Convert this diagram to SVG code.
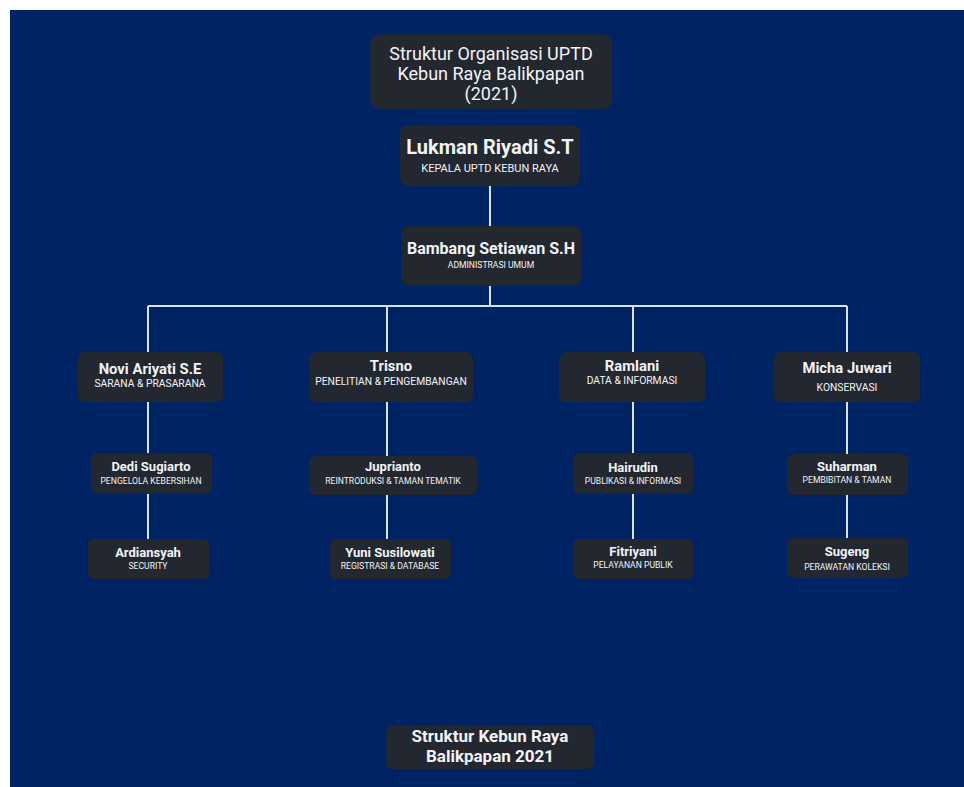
<svg xmlns="http://www.w3.org/2000/svg" width="964" height="787" viewBox="0 0 964 787">
<style>
.box{fill:#23272f}
.t{font-family:Roboto,"Liberation Sans",sans-serif;fill:#f2f4f7;text-anchor:middle}
.title{font-size:18px}
.n1{font-size:20px;font-weight:bold}
.n2{font-size:14.8px;font-weight:bold}
.n3{font-size:13px;font-weight:bold}
.s1{font-size:11px}
.s2{font-size:10.3px}
.s3{font-size:8.6px}
.foot{font-size:17px;font-weight:bold}
.ln{stroke:#dbe3ee;stroke-width:2;fill:none}
</style>
<rect x="0" y="0" width="964" height="787" fill="#ffffff"/>
<rect x="10" y="10" width="954" height="777" fill="#002463"/>
<g id="connectors">
<path class="ln" d="M490 186V226M490 286V306M148 306H847M148 306V352M387 306V352M633 306V352M847 306V352"/>
<path class="ln" d="M148 402V453M148 494V539M387 402V456M387 495V539M633 402V453M633 494V539M847 402V454M847 495V538"/>
</g>
<g id="title">
<rect class="box" x="370" y="34" width="242" height="75" rx="9"/>
<text class="t title" x="491" y="60">Struktur Organisasi UPTD</text>
<text class="t title" x="491" y="80">Kebun Raya Balikpapan</text>
<text class="t title" x="491" y="100">(2021)</text>
</g>
<g id="lukman">
<rect class="box" x="400" y="125" width="180" height="61" rx="8"/>
<text class="t n1" x="490" y="154">Lukman Riyadi S.T</text>
<text class="t s1" x="490" y="172">KEPALA UPTD KEBUN RAYA</text>
</g>
<g id="bambang">
<rect class="box" x="401" y="226" width="180" height="60" rx="8"/>
<text class="t n2" x="491" y="254" style="font-size:16px">Bambang Setiawan S.H</text>
<text class="t s3" x="491" y="268">ADMINISTRASI UMUM</text>
</g>
<g id="novi">
<rect class="box" x="78" y="352" width="145" height="50" rx="7"/>
<text class="t n2" x="150" y="374">Novi Ariyati S.E</text>
<text class="t s2" x="150" y="387">SARANA &amp; PRASARANA</text>
</g>
<g id="trisno">
<rect class="box" x="309" y="352" width="164" height="50" rx="7"/>
<text class="t n2" x="391" y="371">Trisno</text>
<text class="t s2" x="391" y="385">PENELITIAN &amp; PENGEMBANGAN</text>
</g>
<g id="ramlani">
<rect class="box" x="559" y="352" width="146" height="50" rx="7"/>
<text class="t n2" x="632" y="371">Ramlani</text>
<text class="t s2" x="632" y="384">DATA &amp; INFORMASI</text>
</g>
<g id="micha">
<rect class="box" x="774" y="352" width="146" height="50" rx="7"/>
<text class="t n2" x="847" y="373">Micha Juwari</text>
<text class="t s2" x="847" y="391">KONSERVASI</text>
</g>
<g id="dedi">
<rect class="box" x="91" y="453" width="121" height="41" rx="6"/>
<text class="t n3" x="151" y="471">Dedi Sugiarto</text>
<text class="t s3" x="151" y="484">PENGELOLA KEBERSIHAN</text>
</g>
<g id="ardiansyah">
<rect class="box" x="88" y="539" width="121" height="40" rx="6"/>
<text class="t n3" x="148" y="557">Ardiansyah</text>
<text class="t s3" x="148" y="569">SECURITY</text>
</g>
<g id="jupri">
<rect class="box" x="309" y="456" width="168" height="39" rx="6"/>
<text class="t n3" x="393" y="471">Juprianto</text>
<text class="t s3" x="393" y="484">REINTRODUKSI &amp; TAMAN TEMATIK</text>
</g>
<g id="yuni">
<rect class="box" x="330" y="539" width="121" height="40" rx="6"/>
<text class="t n3" x="390" y="557">Yuni Susilowati</text>
<text class="t s3" x="390" y="569">REGISTRASI &amp; DATABASE</text>
</g>
<g id="hairudin">
<rect class="box" x="573" y="453" width="120" height="41" rx="6"/>
<text class="t n3" x="633" y="472">Hairudin</text>
<text class="t s3" x="633" y="484">PUBLIKASI &amp; INFORMASI</text>
</g>
<g id="fitriyani">
<rect class="box" x="573" y="539" width="120" height="40" rx="6"/>
<text class="t n3" x="633" y="556">Fitriyani</text>
<text class="t s3" x="633" y="568">PELAYANAN PUBLIK</text>
</g>
<g id="suharman">
<rect class="box" x="787" y="454" width="121" height="41" rx="6"/>
<text class="t n3" x="847" y="471">Suharman</text>
<text class="t s3" x="847" y="483">PEMBIBITAN &amp; TAMAN</text>
</g>
<g id="sugeng">
<rect class="box" x="787" y="538" width="121" height="40" rx="6"/>
<text class="t n3" x="847" y="556">Sugeng</text>
<text class="t s3" x="847" y="570">PERAWATAN KOLEKSI</text>
</g>
<g id="footer">
<rect class="box" x="386" y="725" width="208" height="44" rx="7"/>
<text class="t foot" x="490" y="742">Struktur Kebun Raya</text>
<text class="t foot" x="490" y="762">Balikpapan 2021</text>
</g>
</svg>
